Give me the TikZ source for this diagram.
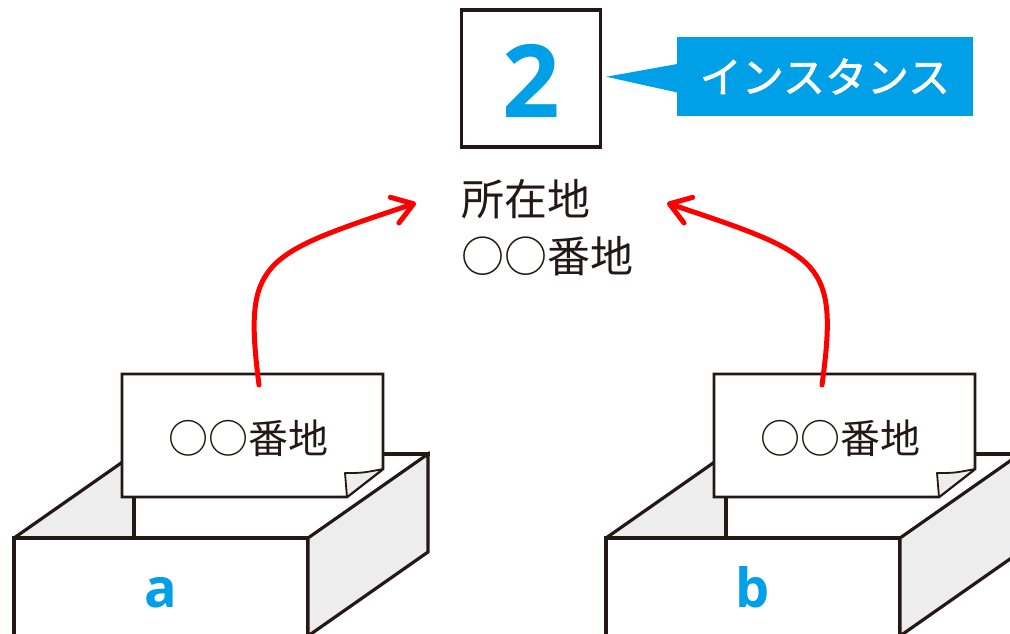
\documentclass[tikz,border=0pt]{standalone}
\usepackage{fontspec}
\newfontfamily\jpfont{Noto Sans CJK JP}
\newfontfamily\jptagfont{Noto Sans CJK JP}[FakeBold=1.6]
\newfontfamily\latinfont{Open Sans}
\usetikzlibrary{arrows.meta,calc}
\definecolor{inkblack}{HTML}{231815}
\definecolor{skyblue}{HTML}{00A0E9}
\definecolor{linkred}{HTML}{FF0000}
\definecolor{wallgray}{HTML}{EDEDED}

\begin{document}
\begin{tikzpicture}[x=1pt,y=-1pt,
  edge/.style={draw=inkblack,line width=3.2pt},
  rim/.style={draw=inkblack,line width=4.5pt},
  paper/.style={draw=inkblack,line width=2.6pt,fill=white},
  jptext/.style={font=\jpfont\fontsize{#1}{#1}\selectfont,text=inkblack,inner sep=0pt},
  boxlabel/.style={font=\latinfont\bfseries\fontsize{54}{54}\selectfont,text=skyblue,inner sep=0pt,anchor=base},
  link/.style={draw=linkred,line width=5pt,line cap=round,
    -{Straight Barb[length=20pt,width=27pt,round]}},
  pics/crate/.style={code={
    % inner left wall
    \fill[wallgray] (14,538) -- (134,454) -- (134,538) -- cycle;
    \draw[edge] (14,538) -- (134,454);
    \draw[rim] (134,454) -- (430,454);
    \draw[edge] (134,454) -- (134,538);
    % address slip with curled corner
    \draw[paper] (122,374) -- (383,374) -- (383,469) -- (347,497) -- (122,497) -- cycle;
    \draw[draw=inkblack,line width=1.8pt,fill=wallgray,line join=round]
      (347,497) -- (345,473) .. controls (362,473) .. (383,469) -- cycle;
    \node[jptext=40] (-note) at (248,438) {○○番地};
    % front and right faces
    \draw[edge,fill=white] (14,538) rectangle (308,660);
    \draw[rim] (12,538) -- (308,538);
    \draw[edge,fill=wallgray] (308,538) -- (428,454) -- (428,552) -- (308,636) -- cycle;
    \node[boxlabel] (-label) at (161,607) {#1};
  }}
]
\useasboundingbox (0,0) rectangle (1010,633);
\clip (0,0) rectangle (1010,633);
\fill[white] (0,0) rectangle (1010,633);

% instance box and its tag
\node[draw=inkblack,line width=3.6pt,minimum width=139pt,minimum height=137pt,inner sep=0pt]
  (inst) at (531,78.75) {};
\node[font=\latinfont\bfseries\fontsize{101}{101}\selectfont,text=skyblue,inner sep=0pt,anchor=base]
  (digit) at (531,117) {2};
\node[fill=skyblue,minimum width=296pt,minimum height=79pt,inner sep=0pt,text=white,
  font=\jptagfont\fontsize{42}{42}\selectfont] (tag) at (825,76.5) {インスタンス};
\fill[skyblue] ($(tag.west)+(0.5,-12.5)$) -- ($(inst.east)+(4,-2)$) -- ($(tag.west)+(0.5,16)$) -- cycle;

% address text
\node[jptext=43,anchor=base west] (loc1) at (461,215) {所在地};
\node[jptext=43,anchor=base west] (loc2) at (461,272) {○○番地};

% variables a and b
\pic (A) at (0,0) {crate=a};
\pic (B) at (592,0) {crate=b};

% references
\coordinate (srcL) at (259,385);
\coordinate (tipL) at (416,203);
\coordinate (srcR) at (822,385);
\coordinate (tipR) at (667,203);
\draw[link] (srcL) .. controls (243,260) and (260,255) .. (tipL);
\draw[link] (srcR) .. controls (839,260) and (822,255) .. (tipR);
\end{tikzpicture}
\end{document}
